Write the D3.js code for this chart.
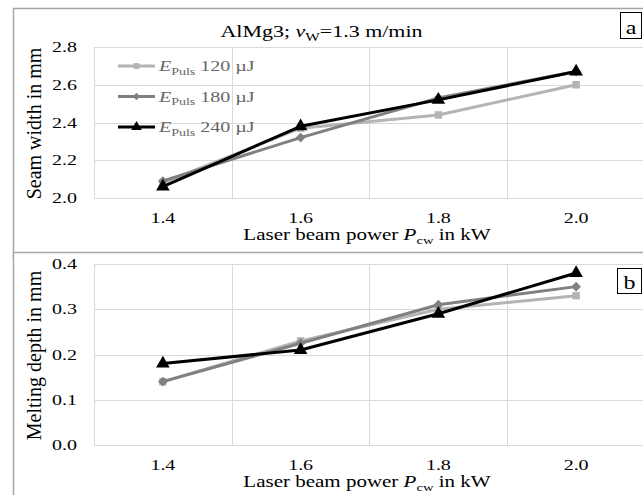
<!DOCTYPE html>
<html>
<head>
<meta charset="utf-8">
<script src="https://cdn.jsdelivr.net/npm/d3@7"></script>
<style>
body{margin:0;background:#fff;}
</style>
</head>
<body>
<div id="chart"></div>
<script>
// laser power categories in kW
var power = [1.4, 1.6, 1.8, 2.0];
var pulseLabels = ["120 µJ", "180 µJ", "240 µJ"];
// seam width in mm (panel a)
var width120 = [2.08, 2.37, 2.44, 2.60];
var width180 = [2.09, 2.32, 2.53, 2.67];
var width240 = [2.06, 2.38, 2.52, 2.67];
// melting depth in mm (panel b)
var depth120 = [0.14, 0.23, 0.30, 0.33];
var depth180 = [0.14, 0.225, 0.31, 0.35];
var depth240 = [0.18, 0.21, 0.29, 0.38];
var widthTicks = [2.0, 2.2, 2.4, 2.6, 2.8];
var depthTicks = [0.0, 0.1, 0.2, 0.3, 0.4];
var gridX = [1.3, 1.5, 1.7, 1.9];

var W = 643, H = 495;
var FONT = "'Liberation Serif', 'Times New Roman', 'DejaVu Serif', serif";
var FS = 20, SQ = 0.76; // horizontal text is squashed vertically in the original
var colors = ["#b4b4b4", "#808080", "#000000"];

// excel-like markers
var diamond = {draw: function(ctx, size){
  var r = Math.sqrt(size) / 2 * 1.3;
  ctx.moveTo(0, -r); ctx.lineTo(r, 0); ctx.lineTo(0, r); ctx.lineTo(-r, 0); ctx.closePath();
}};
var symbols = [d3.symbolSquare, diamond, d3.symbolTriangle];
var symSize = [56, 56, 80];

var svg = d3.select("#chart").append("svg")
  .attr("width", W).attr("height", H)
  .attr("font-family", FONT);

var x = d3.scaleLinear().domain([1.3, 2.1]).range([94, 645]);

function label(g, px, py, anchor, size){
  var fs = size || FS;
  return g.append("text")
    .attr("transform", "translate(" + px + "," + py + ") scale(1," + SQ + ")")
    .attr("text-anchor", anchor || "start").attr("font-size", fs);
}
function sub(t, s, size){
  t.append("tspan").attr("font-size", (size || FS) * 0.7).attr("dy", 5).text(s);
}

function panel(cfg){
  var g = svg.append("g");
  // frame
  g.append("rect")
    .attr("x", 13.5).attr("y", cfg.frameTop + 0.5)
    .attr("width", W).attr("height", cfg.frameH)
    .attr("fill", "#fff").attr("stroke", "#a6a6a6").attr("stroke-width", 1.5);

  var y = d3.scaleLinear().domain(cfg.domain).range([cfg.bottom, cfg.top]);

  // grid
  g.selectAll(".hg").data(cfg.ticks).enter().append("line")
    .attr("x1", x(1.3)).attr("x2", W)
    .attr("y1", function(d){return Math.round(y(d)) + 0.5;})
    .attr("y2", function(d){return Math.round(y(d)) + 0.5;})
    .attr("stroke", "#d9d9d9");
  g.selectAll(".vg").data(gridX).enter().append("line")
    .attr("x1", function(d){return Math.round(x(d)) + 0.5;})
    .attr("x2", function(d){return Math.round(x(d)) + 0.5;})
    .attr("y1", cfg.top).attr("y2", cfg.bottom)
    .attr("stroke", "#d9d9d9");

  // tick labels
  cfg.ticks.forEach(function(d){
    label(g, 77, y(d) + 5, "end").text(d.toFixed(1));
  });
  power.forEach(function(d){
    label(g, x(d), cfg.bottom + 24.5, "middle").text(d.toFixed(1));
  });

  // axis titles
  var xt = label(g, 367, cfg.bottom + 42, "middle", 21);
  xt.append("tspan").text("Laser beam power ");
  xt.append("tspan").attr("font-style", "italic").text("P");
  sub(xt, "cw", 21);
  xt.append("tspan").attr("dy", -5).text(" in kW");

  g.append("text")
    .attr("transform", "translate(41," + ((cfg.top + cfg.bottom) / 2 + 1) + ") rotate(-90)")
    .attr("text-anchor", "middle").attr("font-size", FS)
    .text(cfg.yTitle);

  // series
  var line = d3.line()
    .x(function(d, i){return x(power[i]);})
    .y(function(d){return y(d);});
  cfg.series.forEach(function(s, k){
    g.append("path").datum(s)
      .attr("d", line).attr("fill", "none")
      .attr("stroke", colors[k]).attr("stroke-width", 3)
      .attr("stroke-linejoin", "round");
    g.selectAll(".m" + k).data(s).enter().append("path")
      .attr("d", d3.symbol().type(symbols[k]).size(symSize[k]))
      .attr("transform", function(d, i){return "translate(" + x(power[i]) + "," + y(d) + ")";})
      .attr("fill", colors[k]);
  });

  // panel letter box
  g.append("rect")
    .attr("x", cfg.box[0] + 0.5).attr("y", cfg.box[1] + 0.5)
    .attr("width", cfg.box[2]).attr("height", cfg.box[3])
    .attr("fill", "#fff").attr("stroke", "#000").attr("stroke-width", 1);
  label(g, cfg.box[0] + cfg.box[2] / 2 + 0.5, cfg.box[1] + cfg.box[3] - 4, "middle", 24)
    .text(cfg.letter);
  return g;
}

var gA = panel({
  frameTop: 8, frameH: 250, domain: [2.0, 2.8], top: 47, bottom: 198,
  ticks: widthTicks, yTitle: "Seam width in mm",
  series: [width120, width180, width240], box: [620, 12, 21, 26], letter: "a"
});
panel({
  frameTop: 252, frameH: 260, domain: [0.0, 0.4], top: 264, bottom: 445,
  ticks: depthTicks, yTitle: "Melting depth in mm",
  series: [depth120, depth180, depth240], box: [617, 268, 24, 25], letter: "b"
});

// title
var t = label(gA, 321.5, 37, "middle", 22);
t.append("tspan").text("AlMg3; ");
t.append("tspan").attr("font-style", "italic").text("v");
sub(t, "W", 22);
t.append("tspan").attr("dy", -5).text("=1.3 m/min");

// legend
var leg = gA.append("g");
pulseLabels.forEach(function(lab, k){
  var ly = 66 + k * 30.5;
  leg.append("line").attr("x1", 118).attr("x2", 155)
    .attr("y1", ly).attr("y2", ly)
    .attr("stroke", colors[k]).attr("stroke-width", 3);
  leg.append("path")
    .attr("d", d3.symbol().type(symbols[k]).size(symSize[k] * 0.6))
    .attr("transform", "translate(136.5," + ly + ")")
    .attr("fill", colors[k]);
  var tx = label(leg, 159, ly + 5).attr("fill", "#666");
  tx.append("tspan").attr("font-style", "italic").text("E");
  sub(tx, "Puls");
  tx.append("tspan").attr("dy", -5).text(" " + lab);
});
</script>
</body>
</html>
